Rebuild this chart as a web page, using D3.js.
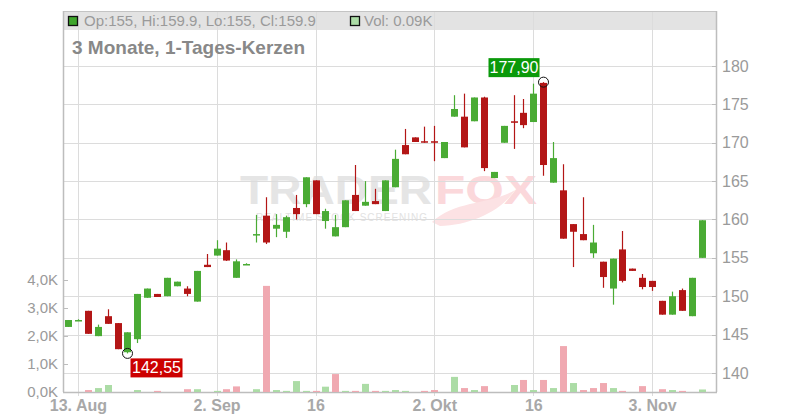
<!DOCTYPE html>
<html><head><meta charset="utf-8">
<script src="https://cdn.jsdelivr.net/npm/d3@7"></script>
<style>body{margin:0;background:#fff}svg{display:block;font-family:"Liberation Sans",Arial,sans-serif}</style>
</head><body><svg id="c" width="800" height="420"></svg>
<script>
const dates=["12.08","13.08","14.08","15.08","18.08","19.08","20.08","21.08","22.08","25.08","26.08","27.08","28.08","29.08","01.09","02.09","03.09","04.09","05.09","08.09","09.09","10.09","11.09","12.09","15.09","16.09","17.09","18.09","19.09","22.09","23.09","24.09","25.09","26.09","29.09","30.09","01.10","02.10","03.10","06.10","07.10","08.10","09.10","10.10","13.10","14.10","15.10","16.10","17.10","20.10","21.10","22.10","23.10","24.10","27.10","28.10","29.10","30.10","31.10","03.11","04.11","05.11","06.11","07.11","10.11"];
const open =[146.0,146.9,148.1,144.8,147.4,146.5,142.7,144.4,149.8,150.3,150.0,151.3,151.0,149.3,154.1,155.3,156.0,152.4,154.2,158.1,160.5,158.8,158.4,161.5,162.0,165.1,159.8,157.8,159.0,163.2,161.8,162.4,161.1,164.2,169.7,170.7,170.2,170.2,168.0,173.4,173.4,172.8,175.9,165.4,170.0,172.8,173.9,172.7,177.8,164.8,163.8,159.4,158.1,155.6,154.5,151.0,156.1,153.6,152.4,152.0,149.4,147.6,150.8,147.4,155.0];
const high =[146.9,147.0,148.1,146.3,148.3,146.5,145.3,150.3,151.0,150.3,152.4,151.9,151.3,153.3,155.5,157.3,157.0,154.8,154.3,160.6,162.9,160.7,160.5,163.2,165.5,165.1,161.4,160.6,162.5,167.1,165.0,164.0,165.1,169.1,171.8,170.7,172.1,172.2,170.1,176.2,176.4,175.9,176.0,166.2,172.2,176.2,175.7,177.7,177.9,170.1,167.2,159.4,162.9,159.3,154.5,154.9,158.5,153.6,152.9,152.0,149.4,150.6,151.0,152.4,159.9];
const low  =[146.0,146.8,145.1,144.8,146.4,143.1,142.55,143.9,149.8,149.9,150.0,151.3,150.0,149.3,153.8,155.3,154.6,152.4,154.1,157.0,156.8,157.7,157.6,160.0,161.6,160.7,158.8,157.8,159.0,161.1,161.8,162.0,161.1,164.2,168.5,170.1,170.0,167.6,168.0,173.4,169.4,172.8,166.3,165.4,170.0,169.2,171.9,172.7,165.7,164.8,157.5,153.8,157.3,155.0,151.1,148.9,151.8,153.3,150.9,150.7,147.6,147.6,148.1,147.4,155.0];
const close=[146.9,146.9,145.1,146.0,146.4,143.1,145.3,150.3,151.0,149.9,152.4,151.9,150.3,153.3,153.8,156.2,154.65,154.55,154.2,158.1,157.0,159.3,160.3,160.7,165.5,160.7,161.1,159.0,162.5,161.1,162.3,162.0,165.1,167.9,168.5,170.1,170.05,170.0,170.1,174.4,169.4,175.9,166.7,166.2,172.2,172.6,172.3,176.4,167.1,168.0,157.5,158.4,157.3,157.0,152.5,154.9,152.0,153.3,151.2,151.2,147.6,150.0,148.1,152.4,159.9];
const volumeK=[0,0,0.07,0.14,0.25,0,0,0.07,0,0.04,0,0,0.1,0.1,0,0.04,0.1,0.2,0,0.1,3.79,0.07,0.04,0.39,0.04,0.04,0.19,0.64,0.04,0.04,0.29,0.04,0.04,0.07,0.04,0,0.04,0.07,0,0.54,0.14,0.07,0.21,0,0,0.25,0.43,0.07,0.43,0.14,1.64,0.32,0.07,0.14,0.32,0.14,0.04,0,0.21,0,0.1,0.07,0.04,0,0.09];
const priceTicks=[140,145,150,155,160,165,170,175,180];
const volTicks=[0,1,2,3,4];
const volTickLabels=["0,0K","1,0K","2,0K","3,0K","4,0K"];
const xTickIdx=[1,15,25,37,47,59];
const xTickLabels=["13. Aug","2. Sep","16","2. Okt","16","3. Nov"];
const headerText="Op:155, Hi:159.9, Lo:155, Cl:159.9";
const volText="Vol: 0.09K";
const title="3 Monate, 1-Tages-Kerzen";
const lowLabel="142,55", highLabel="177,90";

const L=63,R=716,T=11,B=392;
const GREEN="#4aab34",RED="#b31616",VG="#acdca6",VR="#f0a9b1";
const svg=d3.select("#c");
const x=d3.scaleLinear().domain([0,64]).range([68,701.6]);
const y=d3.scaleLinear().domain([137.52,187.17]).range([B,T]);
const yv=d3.scaleLinear().domain([0,4]).range([B,280]);
const xc=i=>Math.round(x(i));

// header band
svg.append("rect").attr("x",L).attr("y",T).attr("width",R-L).attr("height",19).attr("fill","#e3e3e3");
// watermark
const wm=svg.append("g");
wm.append("text").attr("x",240).attr("y",204).attr("font-size",40).attr("font-weight","900").attr("fill","#e5e5e5").attr("textLength",192).attr("lengthAdjust","spacingAndGlyphs").text("TRADER");
wm.append("text").attr("x",435).attr("y",204).attr("font-size",40).attr("font-weight","900").attr("fill","#fbd8db").attr("textLength",102).attr("lengthAdjust","spacingAndGlyphs").text("FOX");
wm.append("text").attr("x",256).attr("y",221).attr("font-size",10).attr("fill","#e2e2e2").attr("textLength",171).attr("lengthAdjust","spacing").text("REALTIME STOCK SCREENING");
wm.append("path").attr("d","M432,222 C455,200 490,205 515,190 C500,212 470,225 440,226 Z").attr("fill","#fce2e4");

// grid
svg.append("g").selectAll("line").data(priceTicks).join("line")
 .attr("x1",L).attr("x2",R).attr("y1",d=>Math.round(y(d))+0.5).attr("y2",d=>Math.round(y(d))+0.5)
 .attr("stroke","#dcdcdc");
svg.append("g").selectAll("line").data(xTickIdx).join("line")
 .attr("x1",d=>xc(d)+0.5).attr("x2",d=>xc(d)+0.5).attr("y1",T).attr("y2",B+4)
 .attr("stroke","#dcdcdc");
// frame
svg.append("line").attr("x1",L).attr("x2",R).attr("y1",T+0.5).attr("y2",T+0.5).attr("stroke","#c4c4c4");
svg.append("line").attr("x1",L+0.5).attr("x2",L+0.5).attr("y1",T).attr("y2",B).attr("stroke","#bdbdbd").attr("stroke-width",1.5);
svg.append("line").attr("x1",R+0.5).attr("x2",R+0.5).attr("y1",T).attr("y2",B).attr("stroke","#bdbdbd").attr("stroke-width",1.5);
svg.append("line").attr("x1",L).attr("x2",R+1).attr("y1",B+0.5).attr("y2",B+0.5).attr("stroke","#bdbdbd").attr("stroke-width",1.5);

// header texts
svg.append("rect").attr("x",68.5).attr("y",16.5).attr("width",9).attr("height",9).attr("fill","#3fa62c").attr("stroke","#111").attr("stroke-width",1.3);
svg.append("text").attr("x",84).attr("y",26).attr("font-size",15).attr("fill","#9a9a9a").text(headerText);
svg.append("rect").attr("x",350.5).attr("y",16.5).attr("width",9).attr("height",9).attr("fill","#acdca6").attr("stroke","#111").attr("stroke-width",1.3);
svg.append("text").attr("x",364).attr("y",26).attr("font-size",15).attr("fill","#9a9a9a").text(volText);
svg.append("text").attr("x",72).attr("y",54).attr("font-size",19).attr("font-weight","bold").attr("fill","#888").text(title);

// axes
const yAxis=d3.axisRight(y).tickValues(priceTicks).tickSize(0).tickFormat(d3.format("d"));
const ga=svg.append("g").attr("transform",`translate(${R+4},0)`).call(yAxis);
ga.select(".domain").remove();
ga.selectAll("text").attr("font-size",16).attr("fill","#9a9a9a").attr("font-family","Liberation Sans, Arial").attr("x",2);
svg.append("g").selectAll("line").data(priceTicks).join("line").attr("x1",R-4).attr("x2",R).attr("y1",d=>Math.round(y(d))+0.5).attr("y2",d=>Math.round(y(d))+0.5).attr("stroke","#bdbdbd");
const vAxis=d3.axisLeft(yv).tickValues(volTicks).tickSize(0).tickFormat((d,i)=>volTickLabels[i]);
const gv=svg.append("g").attr("transform",`translate(${L-4},0)`).call(vAxis);
gv.select(".domain").remove();
gv.selectAll("text").attr("font-size",15).attr("fill","#9a9a9a").attr("font-family","Liberation Sans, Arial").attr("x",-1);
svg.append("g").selectAll("line").data(volTicks).join("line").attr("x1",L).attr("x2",L+5).attr("y1",d=>Math.round(yv(d))+0.5).attr("y2",d=>Math.round(yv(d))+0.5).attr("stroke","#bdbdbd");
const xAxis=d3.axisBottom(x).tickValues(xTickIdx).tickSize(0).tickFormat((d,i)=>xTickLabels[i]);
const gx=svg.append("g").attr("transform",`translate(0,${B})`).call(xAxis);
gx.select(".domain").remove();
gx.selectAll("text").attr("font-size",16).attr("font-weight","bold").attr("fill","#a8a8a8").attr("font-family","Liberation Sans, Arial").attr("y",8).attr("dy","0.71em");

// volume bars
const idx=d3.range(dates.length);
svg.append("g").selectAll("rect").data(idx.filter(i=>volumeK[i]>0)).join("rect")
 .attr("x",i=>xc(i)-3).attr("width",7)
 .attr("y",i=>yv(volumeK[i])).attr("height",i=>Math.max(1,B-yv(volumeK[i])))
 .attr("fill",i=>(i>0&&close[i]<close[i-1])?VR:VG);

// candles
const cg=svg.append("g");
cg.selectAll("line").data(idx).join("line")
 .attr("x1",i=>xc(i)+0.5).attr("x2",i=>xc(i)+0.5)
 .attr("y1",i=>y(high[i])).attr("y2",i=>y(low[i]))
 .attr("stroke",i=>close[i]>=open[i]?GREEN:RED).attr("stroke-width",1.2);
cg.selectAll("rect").data(idx).join("rect")
 .attr("x",i=>xc(i)-3).attr("width",7)
 .attr("y",i=>y(Math.max(open[i],close[i])))
 .attr("height",i=>Math.max(1.5,Math.abs(y(open[i])-y(close[i]))))
 .attr("fill",i=>close[i]>=open[i]?GREEN:RED);

// extreme markers
const iLow=d3.minIndex(low), iHigh=d3.maxIndex(high);
const lx=xc(iLow)+0.5, ly=y(low[iLow]);
svg.append("circle").attr("cx",lx).attr("cy",ly).attr("r",5).attr("fill","none").attr("stroke","#111").attr("stroke-width",1);
svg.append("rect").attr("x",lx+3).attr("y",ly+5).attr("width",52).attr("height",19).attr("fill","#cc0000");
svg.append("text").attr("x",lx+29).attr("y",ly+20).attr("text-anchor","middle").attr("font-size",16).attr("fill","#fff").text(lowLabel);
const hx=xc(iHigh)+0.5, hy=y(high[iHigh]);
svg.append("circle").attr("cx",hx).attr("cy",hy).attr("r",5).attr("fill","none").attr("stroke","#111").attr("stroke-width",1);
svg.append("rect").attr("x",hx-55).attr("y",hy-24).attr("width",51).attr("height",19).attr("fill","#0a990a");
svg.append("text").attr("x",hx-29.5).attr("y",hy-9).attr("text-anchor","middle").attr("font-size",16).attr("fill","#fff").text(highLabel);
</script></body></html>
